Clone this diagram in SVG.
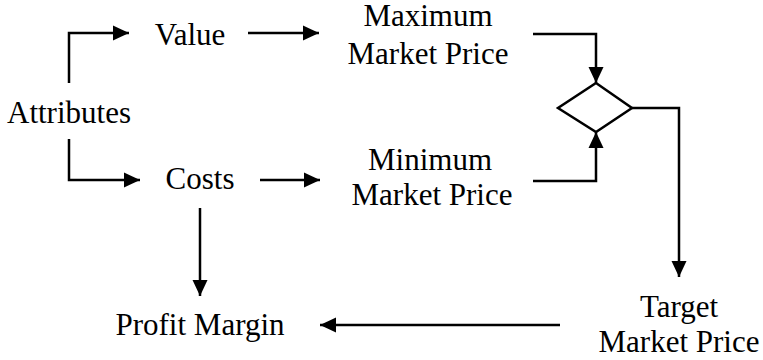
<svg xmlns="http://www.w3.org/2000/svg" width="763" height="360" viewBox="0 0 763 360">
  <style>
    .lbl { font-family: "Liberation Serif", "Times New Roman", serif; font-size: 31px; fill: #000; text-anchor: middle; }
    .wire { fill: none; stroke: #000; stroke-width: 2.5; stroke-linejoin: miter; }
    .shape { fill: #fff; stroke: #000; stroke-width: 2.5; }
  </style>
  <defs>
    <marker id="arrow" markerUnits="userSpaceOnUse" markerWidth="18" markerHeight="16" refX="16" refY="8" orient="auto">
      <polygon points="0,0.5 16,8 0,15.5" fill="#000"/>
    </marker>
  </defs>

  <rect width="763" height="360" fill="#fff"/>

  <g id="connectors">
    <!-- Attributes fan-out -->
    <path class="wire" d="M69,83 V33 H129" marker-end="url(#arrow)"/>
    <path class="wire" d="M69,139 V180 H140" marker-end="url(#arrow)"/>
    <!-- Value / Costs to market prices -->
    <path class="wire" d="M248,33 H319" marker-end="url(#arrow)"/>
    <path class="wire" d="M260,180 H320" marker-end="url(#arrow)"/>
    <!-- into the decision diamond -->
    <path class="wire" d="M533,34 H596 V83" marker-end="url(#arrow)"/>
    <path class="wire" d="M533,181 H596 V132" marker-end="url(#arrow)"/>
    <!-- diamond out to target price -->
    <path class="wire" d="M632,108 H679 V277" marker-end="url(#arrow)"/>
    <!-- to profit margin -->
    <path class="wire" d="M200,208 V296" marker-end="url(#arrow)"/>
    <path class="wire" d="M560,325 H320" marker-end="url(#arrow)"/>
  </g>

  <g id="attributes"><text class="lbl" x="69" y="123">Attributes</text></g>
  <g id="value"><text class="lbl" x="190" y="45">Value</text></g>
  <g id="costs"><text class="lbl" x="200" y="189">Costs</text></g>
  <g id="max-price">
    <text class="lbl" x="428" y="26">Maximum</text>
    <text class="lbl" x="428" y="64">Market Price</text>
  </g>
  <g id="min-price">
    <text class="lbl" x="430" y="170">Minimum</text>
    <text class="lbl" x="432" y="205">Market Price</text>
  </g>
  <g id="decision">
    <polygon class="shape" points="596,83 632,108 596,132 558,108"/>
  </g>
  <g id="target-price">
    <text class="lbl" x="679" y="317">Target</text>
    <text class="lbl" x="679" y="352">Market Price</text>
  </g>
  <g id="profit-margin"><text class="lbl" x="200" y="335">Profit Margin</text></g>
</svg>
